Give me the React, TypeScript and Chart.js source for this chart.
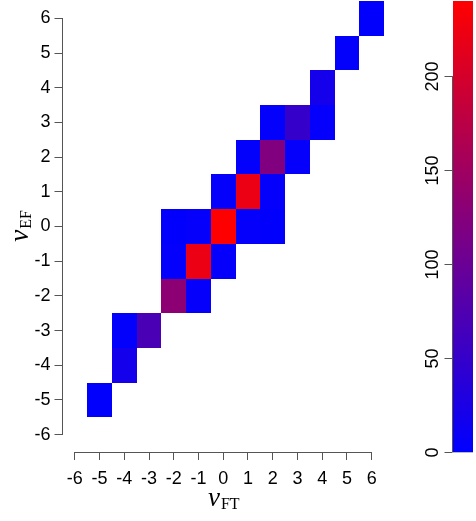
import React, { useEffect, useRef } from 'react';
import { Chart, registerables } from 'chart.js';

Chart.register(...registerables);

// ---- data ----
const cellFT = [6, 5, 4, 2, 3, 4, 1, 2, 3, 0, 1, 2, -2, -1, 0, 1, 2, -2, -1, 0, -2, -1, -4, -3, -4, -5];
const cellEF = [6, 5, 4, 3, 3, 3, 2, 2, 2, 1, 1, 1, 0, 0, 0, 0, 0, -1, -1, -1, -2, -2, -3, -3, -4, -5];
const cellCount = [2, 3, 19, 3, 50, 4, 3, 120, 4, 4, 221, 4, 2, 4, 240, 4, 2, 3, 221, 4, 132, 4, 3, 70, 19, 2];
const axisTicks = [-6, -5, -4, -3, -2, -1, 0, 1, 2, 3, 4, 5, 6];
const colorbarTicks = [0, 50, 100, 150, 200];

const cbMax = Math.max(...cellCount);
const AXIS_COLOR = '#555';
const TICK_FONT = '18px "Liberation Sans", Arial, sans-serif';

function colorFor(v: number): string {
  const t = Math.max(0, Math.min(1, v / cbMax));
  return `rgb(${Math.round(255 * t)},0,${Math.round(255 * (1 - t))})`;
}

function drawMath(ctx: CanvasRenderingContext2D, cx: number, cy: number, rot: number, main: string, sub: string) {
  ctx.save();
  ctx.translate(cx, cy);
  ctx.rotate(rot);
  ctx.fillStyle = '#000';
  ctx.textBaseline = 'alphabetic';
  ctx.textAlign = 'left';
  const mainFont = 'italic 27px "Liberation Serif", "DejaVu Serif", serif';
  const subFont = '16px "Liberation Serif", "DejaVu Serif", serif';
  ctx.font = mainFont;
  const wm = ctx.measureText(main).width;
  ctx.font = subFont;
  const ws = ctx.measureText(sub).width;
  const x0 = -(wm + ws) / 2;
  ctx.font = mainFont;
  ctx.fillText(main, x0, 0);
  ctx.font = subFont;
  ctx.fillText(sub, x0 + wm + 1, 3);
  ctx.restore();
}

const heatPlugin = {
  id: 'heatCells',
  beforeDatasetsDraw(chart: any) {
    const { ctx, scales } = chart;
    const x = scales.x, y = scales.y;
    ctx.save();
    for (let i = 0; i < cellCount.length; i++) {
      const x0 = Math.round(x.getPixelForValue(cellFT[i] - 0.5));
      const x1 = Math.round(x.getPixelForValue(cellFT[i] + 0.5));
      const y0 = Math.round(y.getPixelForValue(cellEF[i] + 0.5));
      const y1 = Math.round(y.getPixelForValue(cellEF[i] - 0.5));
      ctx.fillStyle = colorFor(cellCount[i]);
      ctx.fillRect(x0, y0, x1 - x0, y1 - y0);
    }
    ctx.restore();
  },
  afterDraw(chart: any) {
    const { ctx, scales, chartArea } = chart;
    const x = scales.x, y = scales.y, c = scales.c;
    ctx.save();
    ctx.strokeStyle = AXIS_COLOR;
    ctx.lineWidth = 1;
    // axis lines spanning first..last tick
    const by = Math.round(chartArea.bottom) + 0.5;
    ctx.beginPath();
    ctx.moveTo(x.getPixelForValue(axisTicks[0]), by);
    ctx.lineTo(x.getPixelForValue(axisTicks[axisTicks.length - 1]), by);
    ctx.stroke();
    const lx = Math.round(chartArea.left) - 0.5;
    ctx.beginPath();
    ctx.moveTo(lx, y.getPixelForValue(axisTicks[0]));
    ctx.lineTo(lx, y.getPixelForValue(axisTicks[axisTicks.length - 1]));
    ctx.stroke();

    // colour bar
    const cbLeft = 453, cbRight = 473;
    const cTop = c.getPixelForValue(cbMax);
    const cBot = c.getPixelForValue(0);
    const grad = ctx.createLinearGradient(0, cBot, 0, cTop);
    grad.addColorStop(0, colorFor(0));
    grad.addColorStop(0.5, colorFor(cbMax / 2));
    grad.addColorStop(1, colorFor(cbMax));
    ctx.fillStyle = grad;
    ctx.fillRect(cbLeft, cTop, cbRight - cbLeft, cBot - cTop);
    ctx.strokeStyle = '#bbb';
    ctx.beginPath();
    ctx.moveTo(cbLeft, Math.round(cBot) + 0.5);
    ctx.lineTo(cbRight, Math.round(cBot) + 0.5);
    ctx.stroke();
    // colour bar axis
    ctx.strokeStyle = AXIS_COLOR;
    const ax = cbLeft - 0.5;
    ctx.beginPath();
    ctx.moveTo(ax, c.getPixelForValue(colorbarTicks[0]));
    ctx.lineTo(ax, c.getPixelForValue(colorbarTicks[colorbarTicks.length - 1]));
    ctx.stroke();
    ctx.font = TICK_FONT;
    ctx.fillStyle = '#000';
    ctx.textAlign = 'center';
    ctx.textBaseline = 'alphabetic';
    for (const t of colorbarTicks) {
      const py = Math.round(c.getPixelForValue(t)) + 0.5;
      ctx.beginPath();
      ctx.moveTo(ax, py);
      ctx.lineTo(ax - 8, py);
      ctx.stroke();
      ctx.save();
      ctx.translate(438, py);
      ctx.rotate(-Math.PI / 2);
      ctx.fillText(String(t), 0, 0);
      ctx.restore();
    }

    // axis titles
    drawMath(ctx, (chartArea.left + chartArea.right) / 2, 506, 0, '\u03BD', 'FT');
    drawMath(ctx, 28, (chartArea.top + chartArea.bottom) / 2, -Math.PI / 2, '\u03BD', 'EF');
    ctx.restore();
  },
};

export default function App() {
  const ref = useRef<HTMLCanvasElement | null>(null);
  useEffect(() => {
    document.body.style.margin = '0';
    const canvas = ref.current;
    if (!canvas) return;
    const points = cellFT.map((v, i) => ({ x: v, y: cellEF[i] }));
    const tickCommon = {
      color: '#000',
      font: { family: '"Liberation Sans", Arial, sans-serif', size: 18 },
      autoSkip: false,
      maxRotation: 0,
      minRotation: 0,
    };
    const chart = new Chart(canvas, {
      type: 'scatter',
      data: {
        datasets: [{ data: points, pointRadius: 0, pointHoverRadius: 0, xAxisID: 'x', yAxisID: 'y' }],
      },
      options: {
        responsive: false,
        animation: false,
        devicePixelRatio: 1,
        layout: { padding: { left: 0, top: 1, right: 92, bottom: 0 } },
        plugins: { legend: { display: false }, tooltip: { enabled: false } },
        scales: {
          x: {
            type: 'linear',
            position: 'bottom',
            min: -6.5,
            max: 6.5,
            afterBuildTicks: (s: any) => { s.ticks = axisTicks.map((v) => ({ value: v })); },
            afterFit: (s: any) => { s.height = 69; s.paddingLeft = 0; s.paddingRight = 0; },
            grid: { display: true, drawOnChartArea: false, drawTicks: true, tickLength: 8, color: AXIS_COLOR, lineWidth: 1 },
            border: { display: false },
            ticks: { ...tickCommon, padding: 8 },
          },
          y: {
            type: 'linear',
            position: 'left',
            min: -6.5,
            max: 6.5,
            afterBuildTicks: (s: any) => { s.ticks = axisTicks.map((v) => ({ value: v })); },
            afterFit: (s: any) => { s.width = 62.5; s.paddingTop = 0; s.paddingBottom = 0; },
            grid: { display: true, drawOnChartArea: false, drawTicks: true, tickLength: 8, color: AXIS_COLOR, lineWidth: 1 },
            border: { display: false },
            ticks: { ...tickCommon, padding: 4 },
          },
          c: {
            type: 'linear',
            axis: 'y',
            display: false,
            position: 'right',
            min: 0,
            max: cbMax,
          },
        },
      },
      plugins: [heatPlugin],
    } as any);
    return () => chart.destroy();
  }, []);
  return <canvas ref={ref} width={476} height={521} style={{ display: 'block', width: 476, height: 521 }} />;
}
